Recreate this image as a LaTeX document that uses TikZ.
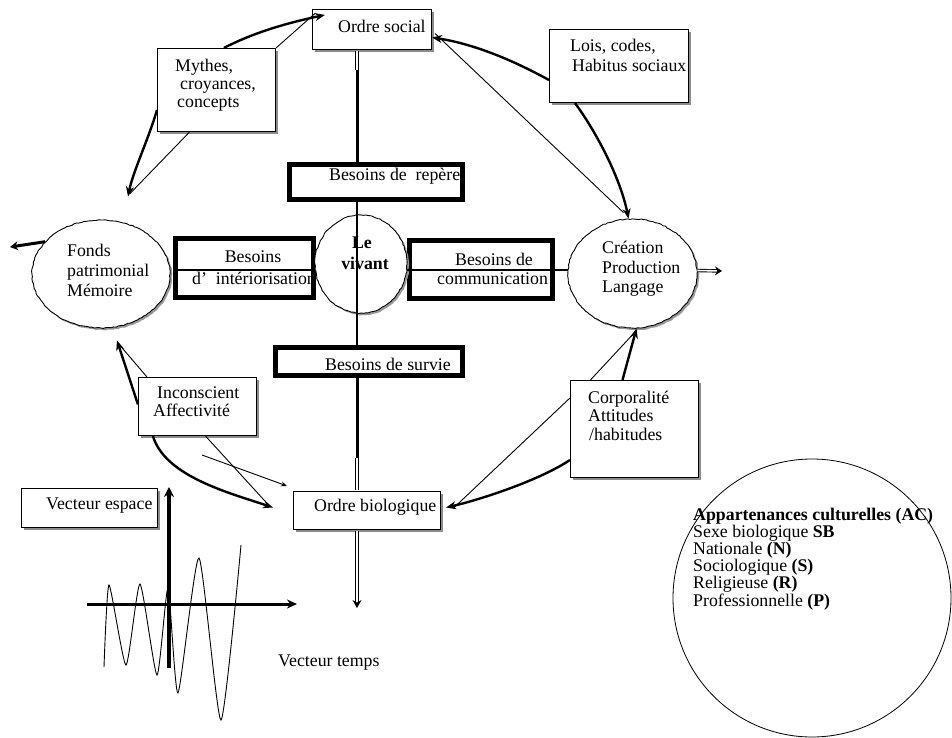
\documentclass[tikz,border=0pt]{standalone}
\usepackage{fontspec}
\setmainfont{Liberation Serif}
\usetikzlibrary{arrows.meta,shapes.geometric,shadows,calc,decorations.pathmorphing}
\begin{document}
\begin{tikzpicture}[x=1pt,y=-1pt,
  txt/.style={font=\fontsize{17.8}{19}\selectfont, inner sep=0pt, anchor=west, align=left},
  ctxt/.style={font=\fontsize{17.8}{19}\selectfont, inner sep=0pt, anchor=center},
  tbox/.style={draw, line width=1.1pt, fill=white, inner sep=0pt,
    drop shadow={shadow xshift=2.5pt, shadow yshift=-2.5pt, fill=black!45, opacity=1}},
  kbox/.style={draw, line width=5pt, fill=white, inner sep=0pt},
  oval/.style={ellipse, draw, line width=0.9pt, fill=white, inner sep=0pt,
    decorate, decoration={random steps, segment length=2.5pt, amplitude=0.5pt},
    drop shadow={shadow xshift=2pt, shadow yshift=-2pt, fill=black!40, opacity=1}},
  thk/.style={line width=2.4pt, -{Stealth[length=10pt,width=8pt]}},
  thn/.style={line width=0.9pt},
  dbl/.style={double, double distance=1.6pt, line width=0.9pt}
]
\useasboundingbox (0,0) rectangle (952,738);

% ---------- shapes ----------
\node[tbox, minimum width=119, minimum height=40] (ordre) at (372,29.5) {};
\node[tbox, minimum width=118, minimum height=83] (mythes) at (216.5,90) {};
\node[tbox, minimum width=139, minimum height=73] (lois) at (619,66) {};
\node[tbox, minimum width=118, minimum height=58] (incons) at (197.5,406.5) {};
\node[tbox, minimum width=128, minimum height=97] (corpo) at (634.5,429) {};
\node[tbox, minimum width=147, minimum height=38] (obio) at (367,510.5) {};
\node[tbox, minimum width=136, minimum height=39] (vesp) at (89.5,508) {};

\node[kbox, minimum width=173, minimum height=35] (repere) at (376,182) {};
\node[kbox, minimum width=138, minimum height=59] (interio) at (244.5,268) {};
\node[kbox, minimum width=143, minimum height=58] (commu) at (481,269.5) {};
\node[kbox, minimum width=187, minimum height=28] (survie) at (369,361.5) {};

\node[oval, minimum width=138, minimum height=108] (fonds) at (101,274) {};
\node[oval, minimum width=92, minimum height=98] (vivant) at (361,264) {};
\node[oval, minimum width=129, minimum height=109] (creation) at (632.5,273.5) {};

\node[draw, circle, line width=0.8pt, minimum size=278, inner sep=0pt] (bigc) at (812,598) {};

% ---------- spine ----------
\coordinate (sA) at (357,70);
\coordinate (sB) at (357,458);
\coordinate (sC) at (357,608);
\draw[dbl, shorten <=1.2pt] (ordre.south -| sA) -- (sA);
\draw[line width=3pt] (sA) -- (sA |- repere.north);
\draw[line width=1.5pt] (sA |- repere.south) -- (sA |- survie.north);
\draw[line width=3pt] (sA |- survie.south) -- (sB);
\draw[dbl, shorten >=1.2pt] (sB) -- (sB |- obio.north);
\draw[dbl, shorten <=1.2pt, -{Stealth[length=8pt,width=9pt]}] (sB |- obio.south) -- (sC);

% ---------- side arrows ----------
\coordinate (lA) at (10,247);
\draw[line width=3pt, -{Stealth[length=8pt,width=9pt]}] (fonds.150) -- (lA);
\coordinate (rA) at (722,271);
\draw[dbl, -{Stealth[length=7pt,width=9pt]}] ($(creation.east)+(0,-3)$) -- (rA);

% ---------- connectors ----------
% Mythes
\draw[thk] (mythes.80) .. controls +(33,-17) and +(-33,7) .. ($(ordre.north west)+(13,6)$);
\draw[thn] (mythes.north east) -- ($(ordre.west)+(3,-16)$);
\coordinate (fTipA) at ($(fonds.north)+(27,-23)$);
\draw[thk] ($(mythes.west)+(0,20)$) .. controls +(-8,28) and +(5,-25) .. (fTipA);
\draw[thn] ($(mythes.south)+(-27,0)$) -- ($(fTipA)+(2,-3)$);
% Lois
\draw[thk] ($(lois.west)+(0,14)$) .. controls +(-40,-22) and +(39,6) .. ($(ordre.east)+(0,8)$);
\draw[thn] ($(ordre.east)+(3,4)$) -- ($(creation.north)+(-9,-6)$);
\draw[thk] ($(lois.south)+(-44,0)$) .. controls +(22,30) and +(-8,-40) .. ($(creation.north)+(-4,0)$);
% Inconscient
\coordinate (fTipB) at ($(fonds.south)+(16,12)$);
\draw[thk] ($(incons.west)+(0,-2)$) -- (fTipB);
\draw[thn] ($(incons.north west)+(9,0)$) -- ($(fTipB)+(3,5)$);
\draw[thk] ($(incons.south west)+(15,0)$) .. controls +(12,40) and +(-45,-15) .. ($(obio.west)+(-20,-3)$);
\draw[thn] ($(incons.south)+(8,0)$) -- ($(obio.west)+(-23,-4)$);
\coordinate (tw1) at (202,455);
\draw[thn, -{Stealth[length=6pt,width=5pt]}] (tw1) -- ($(obio.north west)+(-6,-5)$);
% Corporalite
\draw[thk] ($(corpo.west)+(0,31)$) .. controls +(-30,20) and +(35,-8) .. ($(obio.east)+(5,-3)$);
\draw[thn] ($(corpo.west)+(0,-31)$) -- ($(obio.east)+(12,-2)$);
\draw[thk] ($(corpo.north)+(-12,0)$) -- ($(creation.south)+(4,0)$);
\draw[thn] ($(corpo.north)+(-44,0)$) -- ($(creation.south)+(4,2)$);

% ---------- vector diagram ----------
\draw[line width=0.9pt] plot[smooth, tension=0.35] coordinates {(104,667) (109,585) (126,665) (140,584) (157,675) (168,588) (178,693) (199,558) (221,720) (241,545)};
\coordinate (hx0) at (87,604);
\coordinate (hx1) at (297,604);
\coordinate (vy0) at (169,668);
\coordinate (vy1) at (169,487);
\draw[line width=3pt, -{Stealth[length=10pt,width=9pt]}] (hx0) -- (hx1);
\draw[line width=4pt, -{Stealth[length=10pt,width=10pt]}] (vy0) -- (vy1);

% ---------- texts ----------
\node[txt] (ordreT) at (338,26) {Ordre social};
\node[txt, font=\fontsize{17.8}{18}\selectfont] (mythesT) at (175,85) {Mythes,\\\hspace*{5pt}croyances,\\\hspace*{2pt}concepts};
\node[txt, font=\fontsize{17.8}{20}\selectfont] (loisT) at (570,55) {Lois, codes,\\\hspace*{2pt}Habitus sociaux};
\node[txt] (repereT) at (329,176) {Besoins de\ \ repère};
\node[ctxt] (interioT1) at (253,257) {Besoins};
\node[txt] (interioT2) at (192,278) {d'\ \ intériorisation};
\node[ctxt, font=\fontsize{17.8}{19}\selectfont\bfseries] (vivT1) at (362,243) {Le};
\node[ctxt, font=\fontsize{17.8}{19}\selectfont\bfseries] (vivT2) at (365,263) {vivant};
\node[ctxt] (commT1) at (494,259) {Besoins de};
\node[txt] (commT2) at (437,279) {communication};
\node[txt, font=\fontsize{17.8}{20}\selectfont] (fondsT) at (67,270) {Fonds\\patrimonial\\Mémoire};
\node[txt, font=\fontsize{17.8}{19.5}\selectfont] (creaT) at (602,269) {Création\\Production\\Langage};
\node[txt] (survieT) at (325,364) {Besoins de survie};
\node[txt, font=\fontsize{17.8}{18}\selectfont] (inconsT) at (153,402) {\hspace*{4pt}Inconscient\\Affectivité};
\node[txt, font=\fontsize{17.8}{18.5}\selectfont] (corpoT) at (588,415.5) {Corporalité\\Attitudes\\\hspace*{1pt}/habitudes};
\node[txt] (obioT) at (314,507) {Ordre biologique};
\node[txt] (vespT) at (46,506) {Vecteur espace};
\node[txt] (vtempsT) at (278,663) {Vecteur temps};
\node[txt, font=\fontsize{17.8}{14.8}\selectfont] (acT) at (693,559) {\textbf{Appartenances culturelles (AC)}\\Sexe biologique \textbf{SB}\\Nationale \textbf{(N)}\\Sociologique \textbf{(S)}\\Religieuse \textbf{(R)}\\Professionnelle \textbf{(P)}};

% ---------- horizontal bar ----------
\coordinate (hy) at (0,270);
\draw[line width=2pt] (interio.west |- hy) -- (vivant.west |- hy);
\draw[line width=2pt] (commu.west |- hy) -- (creation.west |- hy);
\end{tikzpicture}
\end{document}
